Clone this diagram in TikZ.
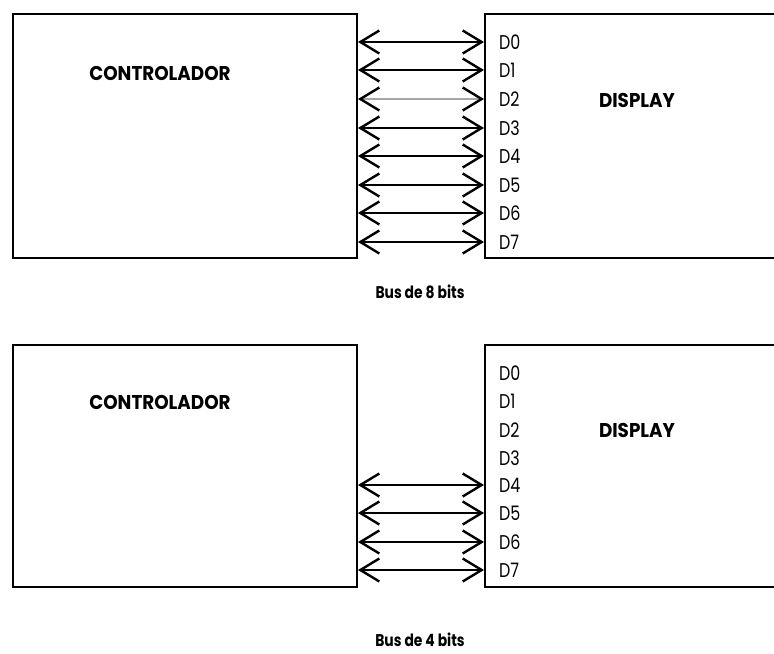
\documentclass[tikz,border=0pt]{standalone}
\usepackage{fontspec}
\setmainfont{Poppins}
\usetikzlibrary{arrows.meta}
\begin{document}
\begin{tikzpicture}[x=1bp,y=-1bp,
  box/.style={draw,line width=2bp,anchor=north west,inner sep=0pt,minimum width=#1},
  box/.default=344bp,
  bus/.style={line width=2bp,{Straight Barb[length=19bp,width=23bp,line width=2.4bp]}-{Straight Barb[length=19bp,width=23bp,line width=2.4bp]}},
  title/.style={inner sep=0pt,font=\fontsize{20}{20}\selectfont\bfseries},
  caption/.style={inner sep=0pt,font=\fontsize{17}{17}\selectfont\bfseries},
  pin/.style={anchor=west,inner sep=0pt,font=\fontsize{20}{20}\selectfont}]
\useasboundingbox (0,0) rectangle (774,654);

% ---------- 8-bit bus ----------
\node[box,minimum height=244bp] (c1) at (12,13) {};
\node[box=320bp,minimum height=244bp] (d1) at (484,13) {};
\node[title] (c1t) at (160,73) {\scalebox{0.92}[1]{CONTROLADOR}};
\node[title] (d1t) at (637,100) {\scalebox{0.92}[1]{DISPLAY}};
\foreach \i/\y in {0/42,1/70,2/99,3/128,4/156,5/185,6/213,7/242}{
  \node[pin] (p1\i) at (499,\y) {\scalebox{0.8}[1]{D\i}};
}
\foreach \i in {0,1,3,4,5,6,7}{
  \draw[bus] (c1.east |- p1\i) -- (d1.west |- p1\i);
}
\draw[bus,draw=gray!70,{Straight Barb[length=19bp,width=23bp,line width=2.4bp,color=black]}-{Straight Barb[length=19bp,width=23bp,line width=2.4bp,color=black]}] (c1.east |- p12) -- (d1.west |- p12);
\node[caption] (b8) at (420,292) {\scalebox{0.82}[1]{Bus de 8 bits}};

% ---------- 4-bit bus ----------
\node[box,minimum height=242bp] (c2) at (12,344) {};
\node[box=320bp,minimum height=242bp] (d2) at (484,344) {};
\node[title] (c2t) at (160,402) {\scalebox{0.92}[1]{CONTROLADOR}};
\node[title] (d2t) at (637,430) {\scalebox{0.92}[1]{DISPLAY}};
\foreach \i/\y in {0/373,1/401,2/430,3/458,4/485,5/513,6/542,7/570}{
  \node[pin] (p2\i) at (499,\y) {\scalebox{0.8}[1]{D\i}};
}
\foreach \i in {4,5,6,7}{
  \draw[bus] (c2.east |- p2\i) -- (d2.west |- p2\i);
}
\node[caption] (b4) at (420,640) {\scalebox{0.82}[1]{Bus de 4 bits}};
\end{tikzpicture}
\end{document}
